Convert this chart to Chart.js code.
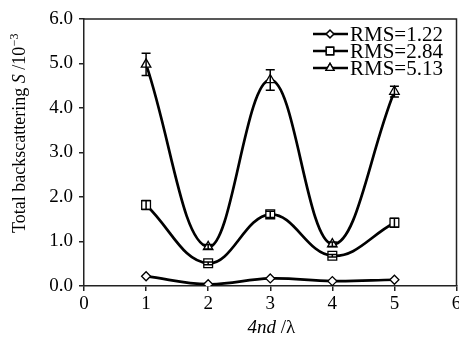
<!DOCTYPE html>
<html>
<head>
<meta charset="utf-8">
<script src="https://cdn.jsdelivr.net/npm/chart.js@4.4.1/dist/chart.umd.min.js"></script>
<style>
html,body{margin:0;padding:0;background:#fff;overflow:hidden;}
#clip{width:459px;height:340px;overflow:hidden;position:relative;}
#wrap{width:464px;height:340px;position:relative;}
</style>
</head>
<body>
<div id="clip"><div id="wrap"><canvas id="c"></canvas></div></div>
<script>
// ---- data ----
const xValues = [1, 2, 3, 4, 5];
const seriesNames = ["RMS=1.22", "RMS=2.84", "RMS=5.13"];
const rms122 = [0.22, 0.04, 0.17, 0.11, 0.14];
const rms284 = [1.82, 0.51, 1.61, 0.68, 1.42];
const rms513 = [4.98, 0.88, 4.63, 0.94, 4.37];
const err122 = [0, 0, 0, 0, 0];
const err284 = [0.10, 0.03, 0.07, 0.03, 0.10];
const err513 = [0.25, 0.05, 0.23, 0.05, 0.12];
const pointStyles = ["rectRot", "rect", "triangle"];
const pointSizes = [4.5, 6.2, 5.5];
const xTicks = [0, 1, 2, 3, 4, 5, 6];
const yTicks = [0, 1, 2, 3, 4, 5, 6];

const serif = "'Liberation Serif','Times New Roman',serif";
const allY = [rms122, rms284, rms513];
const allErr = [err122, err284, err513];

const datasets = allY.map((ys, i) => ({
  label: seriesNames[i],
  data: xValues.map((x, j) => ({x: x, y: ys[j]})),
  errors: allErr[i],
  borderColor: '#000',
  borderWidth: 2.7,
  backgroundColor: '#fff',
  pointStyle: pointStyles[i],
  pointRadius: pointSizes[i],
  pointBorderWidth: 1.3,
  pointBorderColor: '#000',
  pointBackgroundColor: '#fff',
  tension: 0.4,
  fill: false
}));

const errorBars = {
  id: 'errorBars',
  afterDatasetsDraw(chart) {
    const ctx = chart.ctx, xs = chart.scales.x, ys = chart.scales.y;
    ctx.save();
    ctx.strokeStyle = '#000';
    ctx.lineWidth = 1.5;
    chart.data.datasets.forEach(ds => {
      ds.data.forEach((p, j) => {
        const e = ds.errors[j];
        if (!e) return;
        const px = xs.getPixelForValue(p.x);
        const top = ys.getPixelForValue(p.y + e);
        const bot = ys.getPixelForValue(p.y - e);
        ctx.beginPath();
        ctx.moveTo(px, top); ctx.lineTo(px, bot);
        ctx.moveTo(px - 4.5, top); ctx.lineTo(px + 4.5, top);
        ctx.moveTo(px - 4.5, bot); ctx.lineTo(px + 4.5, bot);
        ctx.stroke();
      });
    });
    ctx.restore();
  }
};

const frameAndTitles = {
  id: 'frameAndTitles',
  afterDraw(chart) {
    const ctx = chart.ctx, a = chart.chartArea;
    ctx.save();
    ctx.strokeStyle = '#222';
    ctx.lineWidth = 1.5;
    ctx.beginPath();
    ctx.moveTo(a.left, a.top); ctx.lineTo(a.right, a.top); ctx.lineTo(a.right, a.bottom);
    ctx.stroke();

    ctx.fillStyle = '#000';
    ctx.textBaseline = 'alphabetic';
    // x title: 4nd /λ
    const fs = 19;
    const it = "italic " + fs + "px " + serif, rg = fs + "px " + serif;
    ctx.font = it; const w1 = ctx.measureText("4nd").width;
    ctx.font = rg; const w2 = ctx.measureText(" /λ").width;
    let cx = (a.left + a.right) / 2 - (w1 + w2) / 2 + 1;
    const by = 333;
    ctx.font = it; ctx.fillText("4nd", cx, by);
    ctx.font = rg; ctx.fillText(" /λ", cx + w1, by);

    // y title
    ctx.save();
    ctx.translate(25, 233);
    ctx.rotate(-Math.PI / 2);
    const yf = 18;
    const rgy = yf + "px " + serif, ity = "italic " + yf + "px " + serif, sup = "12px " + serif;
    let x = 0;
    ctx.font = rgy; ctx.fillText("Total backscattering ", x, 0); x += ctx.measureText("Total backscattering ").width;
    ctx.font = ity; ctx.fillText("S", x, 0); x += ctx.measureText("S").width;
    ctx.font = rgy; ctx.fillText(" /10", x, 0); x += ctx.measureText(" /10").width;
    ctx.font = sup; ctx.fillText("\u22123", x + 0.5, -7);
    ctx.restore();

    // legend
    const lf = "21px " + serif;
    const rowsY = [34, 51, 68];
    chart.data.datasets.forEach((ds, i) => {
      const y = rowsY[i];
      ctx.strokeStyle = '#000';
      ctx.lineWidth = 2.5;
      ctx.beginPath(); ctx.moveTo(313, y); ctx.lineTo(348, y); ctx.stroke();
      ctx.lineWidth = 1.3;
      ctx.fillStyle = '#fff';
      Chart.helpers.drawPoint(ctx, {pointStyle: ds.pointStyle, radius: ds.pointRadius * 0.85, borderWidth: 1.3}, 330, y);
      ctx.fill(); ctx.stroke();
      ctx.fillStyle = '#000';
      ctx.font = lf;
      ctx.textBaseline = 'middle';
      ctx.fillText(ds.label, 350, y + 1);
    });
    ctx.restore();
  }
};

new Chart(document.getElementById('c'), {
  type: 'line',
  data: {datasets: datasets},
  plugins: [errorBars, frameAndTitles],
  options: {
    responsive: true,
    maintainAspectRatio: false,
    animation: false,
    layout: {padding: {left: 0, top: 19, right: 0, bottom: 0}},
    plugins: {legend: {display: false}, tooltip: {enabled: false}},
    scales: {
      x: {
        type: 'linear', min: 0, max: 6,
        afterBuildTicks: s => { s.ticks = xTicks.map(v => ({value: v})); },
        afterFit: s => { s.height = 54; },
        border: {display: true, color: '#222', width: 1.5},
        grid: {display: true, drawOnChartArea: false, drawTicks: true, tickLength: 5, color: '#222', lineWidth: 1.5},
        ticks: {color: '#000', font: {family: serif, size: 19}, padding: 2, maxRotation: 0, autoSkip: false}
      },
      y: {
        min: 0, max: 6,
        afterBuildTicks: s => { s.ticks = yTicks.map(v => ({value: v})); },
        afterFit: s => { s.width = 84; },
        border: {display: true, color: '#222', width: 1.5},
        grid: {display: true, drawOnChartArea: false, drawTicks: true, tickLength: 5, color: '#222', lineWidth: 1.5},
        ticks: {color: '#000', font: {family: serif, size: 19}, padding: 6, callback: v => Number(v).toFixed(1)}
      }
    }
  }
});
</script>
</body>
</html>
